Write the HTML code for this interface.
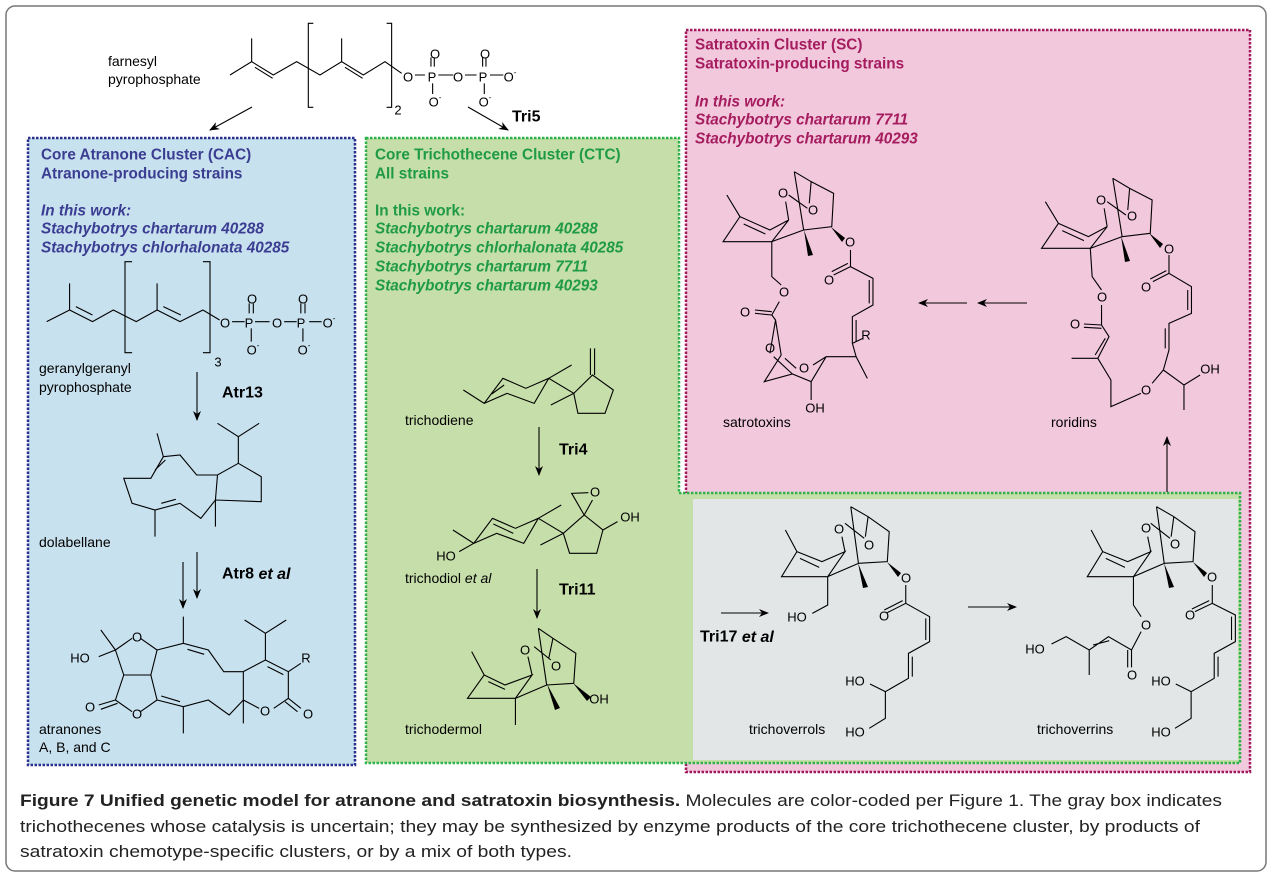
<!DOCTYPE html>
<html><head><meta charset="utf-8"><style>
html,body{margin:0;padding:0;background:#fff;}
svg{display:block;font-family:"Liberation Sans",Arial,sans-serif;}
.m{fill:none;stroke:#000;}
.m path,.m line,.m polyline{vector-effect:non-scaling-stroke;stroke-width:1.1;}
.w{fill:#000;stroke:none;}
.a{font-size:13px;fill:#000;text-anchor:middle;dominant-baseline:central;}
.l{font-size:14px;fill:#000;dominant-baseline:central;}
.e{font-size:16px;font-weight:bold;fill:#000;dominant-baseline:central;}
.hb{font-size:15.3px;font-weight:bold;fill:#3b3d92;dominant-baseline:central;}
.hg{font-size:15.3px;font-weight:bold;fill:#1f9a45;dominant-baseline:central;}
.hp{font-size:15.3px;font-weight:bold;fill:#a51c5f;dominant-baseline:central;}
.i{font-style:italic;}
</style></head><body>
<svg width="1273" height="877" viewBox="0 0 1273 877" xmlns="http://www.w3.org/2000/svg">
<defs>
<marker id="ah" markerWidth="10" markerHeight="8" refX="9" refY="4" orient="auto" markerUnits="userSpaceOnUse">
<path d="M0,0 L10,4 L0,8 L3,4 Z" fill="#000"/></marker>
</defs>
<rect x="6" y="6" width="1260" height="865" rx="9" fill="#fff" stroke="#777" stroke-width="1.5"/>

<!-- backgrounds -->
<rect x="686" y="30" width="564" height="742" fill="#f2c8dc"/>
<rect x="686" y="30" width="564" height="742" fill="none" stroke="#a3195b" stroke-width="2.5" stroke-dasharray="2.5 1.5"/>
<rect x="28" y="138" width="327" height="627" fill="#c8e1ee"/>
<path d="M366,138 H679 V493 H1240 V763 H366 Z" fill="#c6dea9"/>
<rect x="693" y="499" width="545" height="261" fill="#e3e6e6"/>
<!-- borders -->
<rect x="28" y="138" width="327" height="627" fill="none" stroke="#2b2f8f" stroke-width="2.5" stroke-dasharray="2.5 1.5"/>
<path d="M366,138 H679 V493 H1240 V763 H366 Z" fill="none" stroke="#2db34a" stroke-width="2.5" stroke-dasharray="2.5 1.5"/>

<!-- headers -->
<text class="hb" x="41" y="155">Core Atranone Cluster (CAC)</text>
<text class="hb" x="41" y="174">Atranone-producing strains</text>
<text class="hb i" x="41" y="211">In this work:</text>
<text class="hb i" x="41" y="229">Stachybotrys chartarum 40288</text>
<text class="hb i" x="41" y="248">Stachybotrys chlorhalonata 40285</text>

<text class="hg" x="375" y="155">Core Trichothecene Cluster (CTC)</text>
<text class="hg" x="375" y="174">All strains</text>
<text class="hg" x="375" y="211">In this work:</text>
<text class="hg i" x="375" y="229">Stachybotrys chartarum 40288</text>
<text class="hg i" x="375" y="248">Stachybotrys chlorhalonata 40285</text>
<text class="hg i" x="375" y="267">Stachybotrys chartarum 7711</text>
<text class="hg i" x="375" y="286">Stachybotrys chartarum 40293</text>

<text class="hp" x="695" y="45">Satratoxin Cluster (SC)</text>
<text class="hp" x="695" y="64">Satratoxin-producing strains</text>
<text class="hp i" x="695" y="102">In this work:</text>
<text class="hp i" x="695" y="120">Stachybotrys chartarum 7711</text>
<text class="hp i" x="695" y="139">Stachybotrys chartarum 40293</text>

<!-- farnesyl -->
<g class="m" transform="translate(90,20) scale(0.3333)">
<polyline points="420,165 485,125 550,165 620,125 690,165 755,125 820,165 885,125 935,160"/>
<path d="M485,125 L485,55 M755,125 L755,55 M495,142 L548,175 M765,142 L818,175"/>
<path d="M670,10 L655,10 L655,262 L670,262 M890,10 L905,10 L905,262 L890,262"/>
<path d="M975,165 L1005,165 M1045,165 L1090,165 M1125,165 L1160,165 M1200,165 L1240,165"/>
<path d="M1023,140 L1023,112 M1033,140 L1033,112 M1178,140 L1178,112 M1188,140 L1188,112 M1028,190 L1028,222 M1183,190 L1183,222"/>
</g>
<text class="l" x="108" y="61">farnesyl</text>
<text class="l" x="108" y="79">pyrophosphate</text>
<text class="a" x="408" y="77">O</text><text class="a" x="432" y="77">P</text><text class="a" x="458" y="77">O</text><text class="a" x="483" y="77">P</text><text class="a" x="510" y="77">O<tspan font-size="8" dy="-5">-</tspan></text>
<text class="a" x="435" y="54">O</text><text class="a" x="485" y="54">O</text>
<text class="a" x="435" y="102">O<tspan font-size="8" dy="-5">-</tspan></text><text class="a" x="485" y="102">O<tspan font-size="8" dy="-5">-</tspan></text>
<text class="a" x="398" y="110" font-size="12">2</text>
<line x1="252" y1="107" x2="210" y2="130" stroke="#000" stroke-width="1.1" marker-end="url(#ah)"/>
<line x1="468" y1="107" x2="508" y2="130" stroke="#000" stroke-width="1.1" marker-end="url(#ah)"/>
<text class="e" x="512" y="117">Tri5</text>

<g class="m" transform="translate(30,270) scale(0.41667,0.33333)">
<polyline points="40,155 95,120 150,155 200,120 255,155 305,120 360,155 415,120 455,150"/>
<path d="M95,120 L95,40 M305,120 L305,40 M110,110 L150,135 M320,110 L362,135"/>
<path d="M245,-25 L228,-25 L228,248 L245,248 M415,-25 L432,-25 L432,248 L415,248"/>
<path d="M485,155 L515,155 M540,155 L575,155 M610,155 L640,155 M670,155 L700,155 M526,130 L526,100 M536,130 L536,100 M650,130 L650,100 M660,130 L660,100 M531,175 L531,215 M655,175 L655,215"/>
<polyline points="320,560 360,555 400,615 450,615 500,580 555,620 555,695 445,690 410,745 360,700 300,720 245,700 225,625 290,625 320,560"/>
<path d="M305,490 L320,560 M300,600 L325,570 M315,700 L350,688 M445,690 L450,615 M445,690 L445,770 M300,720 L300,800 M500,580 L500,500 L450,460 M500,500 L550,460"/>
<path d="M205,1140 L245,1105 M265,1105 L305,1140 L290,1215 L225,1215 L205,1140 M205,1140 L170,1080 M205,1140 L165,1160"/>
<path d="M225,1215 L205,1290 L245,1325 M265,1325 L305,1290 L290,1215 M205,1290 L165,1305 M210,1300 L170,1318"/>
<path d="M305,1140 L368,1120 L428,1140 L465,1205 L512,1205 M305,1290 L368,1310 L428,1290 L478,1335 L512,1290 M368,1120 L368,1040 M368,1310 L368,1390 M378,1138 L418,1153 M315,1278 L360,1295"/>
<path d="M512,1205 L565,1170 L620,1205 L620,1285 L585,1315 M550,1315 L512,1290 L512,1205 M512,1290 L512,1360 M620,1285 L650,1315 M612,1295 L642,1325 M620,1205 L650,1180 M565,1170 L565,1090 L515,1050 M565,1090 L615,1050 M570,1190 L608,1214"/>
<path d="M1040,360 L1090,400 L1135,325 L1190,355 L1245,325 L1210,400 L1145,370 L1090,400 M1108,372 L1138,345 M1245,325 L1300,285 M1245,325 L1305,370 L1250,405 M1305,370 L1350,315 L1400,360 L1380,430 L1315,430 L1305,370 M1345,315 L1345,235 M1355,315 L1355,235"/>
<path d="M1015,780 L1065,820 L1110,745 L1165,775 L1220,745 L1185,820 L1120,790 L1065,820 M1112,762 L1160,790 M1065,820 L1030,845 M1220,745 L1275,705 M1220,745 L1280,790 L1225,825 M1280,790 L1330,735 L1375,780 L1360,850 L1295,850 L1280,790 M1330,735 L1300,670 L1340,668 M1330,735 L1350,690 M1375,780 L1410,755"/>
<path d="M1060,1145 L1090,1215 L1050,1285 L1165,1285 L1205,1215 L1140,1245 L1090,1215 M1100,1235 L1140,1258 M1165,1285 L1165,1365 M1165,1285 L1240,1245 M1205,1215 L1195,1160 M1220,1075 L1240,1245 M1220,1075 L1255,1105 L1310,1150 L1305,1240 L1240,1245 M1210,1130 L1250,1170 M1255,1105 L1245,1165"/>
</g>
<polygon class="w" points="547,684 560,708 555,710"/>
<polygon class="w" points="573,683 591,697 587,701"/>
<text class="a" x="225" y="323">O</text><text class="a" x="249" y="323">P</text><text class="a" x="277" y="323">O</text><text class="a" x="301" y="323">P</text><text class="a" x="329" y="323">O<tspan font-size="8" dy="-5">-</tspan></text>
<text class="a" x="252" y="299">O</text><text class="a" x="303" y="299">O</text>
<text class="a" x="253" y="350">O<tspan font-size="8" dy="-5">-</tspan></text><text class="a" x="304" y="350">O<tspan font-size="8" dy="-5">-</tspan></text>
<text class="a" x="218" y="362" font-size="12">3</text>
<text class="l" x="39" y="368">geranylgeranyl</text>
<text class="l" x="39" y="387">pyrophosphate</text>
<text class="e" x="222" y="393">Atr13</text>
<text class="l" x="39" y="542">dolabellane</text>
<text class="e" x="222" y="574">Atr8 <tspan class="i">et al</tspan></text>
<text class="a" x="80" y="658">HO</text><text class="a" x="137" y="637">O</text><text class="a" x="90" y="707">O</text><text class="a" x="137" y="714">O</text>
<text class="a" x="306" y="658">R</text><text class="a" x="265" y="711">O</text><text class="a" x="308" y="714">O</text>
<text class="l" x="39" y="729">atranones</text>
<text class="l" x="39" y="747">A, B, and C</text>
<text class="l" x="405" y="420">trichodiene</text>
<text class="e" x="559" y="450">Tri4</text>
<text class="a" x="446" y="556">HO</text><text class="a" x="595" y="492">O</text><text class="a" x="630" y="517">OH</text>
<text class="l" x="405" y="578">trichodiol <tspan class="i">et al</tspan></text>
<text class="e" x="559" y="590">Tri11</text>
<text class="a" x="525" y="650">O</text><text class="a" x="556" y="666">O</text><text class="a" x="599" y="699">OH</text>
<text class="l" x="405" y="729">trichodermol</text>
<line x1="197" y1="372" x2="197" y2="420" stroke="#000" stroke-width="1.1" marker-end="url(#ah)"/>
<line x1="197" y1="552" x2="197" y2="598" stroke="#000" stroke-width="1.1" marker-end="url(#ah)"/>
<line x1="183" y1="562" x2="183" y2="608" stroke="#000" stroke-width="1.1" marker-end="url(#ah)"/>
<line x1="539" y1="427" x2="539" y2="475" stroke="#000" stroke-width="1.1" marker-end="url(#ah)"/>
<line x1="537" y1="569" x2="537" y2="618" stroke="#000" stroke-width="1.1" marker-end="url(#ah)"/>

<g class="m" transform="translate(680,20) scale(0.3747,0.33333)">
<g id="core3">
<path d="M125,525 L160,590 L115,665 L245,665 L290,600 L240,630 L160,590 M170,612 L228,642 M290,600 L282,545 M305,455 L330,630 M305,455 L350,485 L410,520 L405,620 L330,630 M245,665 L330,630 M290,525 L340,565 M350,485 L345,550"/>
</g>
<path d="M455,690 L455,740 L515,775 L515,855 L460,890 L460,970 L470,1010 L500,1075 M455,740 L410,765 M448,730 L405,755 M505,780 L505,850 M470,900 L470,965 M460,970 L488,955 M470,1010 L390,1010 L355,1035 M310,1045 L280,1015 M390,1010 L350,1085 L350,1140 M350,1085 L300,1062 L225,1085 L270,1005 L255,900 L245,885 M245,885 L265,845 M270,795 L245,770 L245,665 M245,885 L200,880 M245,875 L200,870 M255,900 L240,1000 M300,1062 L250,1010"/>
<use href="#core3" transform="translate(850,20)"/>
<path d="M1305,705 L1305,760 L1365,800 L1365,880 L1305,910 L1305,990 L1290,1050 L1260,1090 M1230,1120 L1150,1160 L1150,1080 L1115,1015 L1145,950 L1125,915 L1125,855 M1125,810 L1100,770 L1095,685 M1115,1015 L1045,1015 M1125,915 L1078,912 M1125,925 L1078,922 M1305,760 L1262,785 M1298,752 L1255,777 M1355,810 L1355,870 M1295,925 L1295,985 M1135,955 L1108,1005 M1290,1050 L1345,1095 L1345,1170 M1345,1095 L1388,1065"/>
</g>
<polygon class="w" points="804,230 813,255 808,256"/>
<polygon class="w" points="831,227 845,238 842,242"/>
<polygon class="w" points="1121,236 1130,261 1125,262"/>
<polygon class="w" points="1149,233 1163,244 1160,248"/>
<text class="a" x="783" y="193">O</text><text class="a" x="813" y="210">O</text><text class="a" x="850" y="242">O</text><text class="a" x="829" y="280">O</text>
<text class="a" x="784" y="292">O</text><text class="a" x="745" y="312">O</text><text class="a" x="866" y="335" font-size="12">R</text><text class="a" x="770" y="348">O</text><text class="a" x="804" y="368">O</text><text class="a" x="815" y="408">OH</text>
<text class="l" x="723" y="422">satrotoxins</text>
<text class="a" x="1101" y="200">O</text><text class="a" x="1132" y="216">O</text><text class="a" x="1169" y="249">O</text><text class="a" x="1146" y="287">O</text>
<text class="a" x="1102" y="297">O</text><text class="a" x="1075" y="324">O</text><text class="a" x="1210" y="369">OH</text><text class="a" x="1146" y="390">O</text>
<text class="l" x="1051" y="422">roridins</text>
<line x1="1027" y1="303" x2="978" y2="303" stroke="#000" stroke-width="1.1" marker-end="url(#ah)"/>
<line x1="967" y1="303" x2="919" y2="303" stroke="#000" stroke-width="1.1" marker-end="url(#ah)"/>
<line x1="1167" y1="492" x2="1167" y2="437" stroke="#000" stroke-width="1.1" marker-end="url(#ah)"/>

<g class="m" transform="translate(670,470) scale(0.3846,0.33333)">
<g id="core2">
<path d="M300,180 L330,245 L290,320 L410,320 L455,245 L395,275 L330,245 M338,265 L388,292 M455,245 L447,200 M470,110 L490,280 M470,110 L515,140 L570,185 L565,275 L490,280 M410,320 L490,280 M455,160 L505,205 M515,140 L508,200"/>
</g>
<path d="M613,345 L613,400 L565,428 M605,392 L557,420 M613,400 L675,440 L675,515 L620,550 L620,625 L560,665 L560,745 L518,775 M665,445 L665,510 M630,560 L630,620 M560,665 L520,642 M410,320 L410,405 L370,430"/>
<use href="#core2" transform="translate(795,0)"/>
<path d="M1205,320 L1205,405 L1225,440 M1225,485 L1200,540 L1140,500 L1090,540 L1030,500 L992,522 M1090,540 L1090,615 M1100,525 L1142,512 M1200,540 L1200,592 M1190,540 L1190,592 M1410,345 L1410,400 L1365,425 M1402,392 L1357,417 M1410,400 L1470,435 L1470,515 L1415,550 L1415,625 L1355,665 L1355,745 L1313,775 M1460,440 L1460,510 M1425,560 L1425,620 M1355,665 L1315,642"/>
</g>
<polygon class="w" points="858,563 868,587 863,588"/>
<polygon class="w" points="887,562 901,573 898,577"/>
<polygon class="w" points="1164,563 1174,587 1169,588"/>
<polygon class="w" points="1193,562 1207,573 1204,577"/>
<text class="a" x="839" y="529">O</text><text class="a" x="869" y="545">O</text><text class="a" x="906" y="578">O</text><text class="a" x="884" y="616">O</text>
<text class="a" x="797" y="617">HO</text><text class="a" x="855" y="681">HO</text><text class="a" x="855" y="732">HO</text>
<text class="l" x="749" y="729">trichoverrols</text>
<text class="a" x="1146" y="528">O</text><text class="a" x="1175" y="544">O</text><text class="a" x="1212" y="577">O</text><text class="a" x="1190" y="615">O</text>
<text class="a" x="1146" y="625">O</text><text class="a" x="1035" y="649">HO</text><text class="a" x="1132" y="675">O</text>
<text class="a" x="1161" y="681">HO</text><text class="a" x="1161" y="732">HO</text>
<text class="l" x="1037" y="729">trichoverrins</text>
<line x1="721" y1="613" x2="768" y2="613" stroke="#000" stroke-width="1.1" marker-end="url(#ah)"/>
<line x1="968" y1="607" x2="1016" y2="607" stroke="#000" stroke-width="1.1" marker-end="url(#ah)"/>
<text class="e" x="700" y="637">Tri17 <tspan class="i">et al</tspan></text>

<text x="20" y="806" font-size="16.5" fill="#222" textLength="1202" lengthAdjust="spacingAndGlyphs"><tspan font-weight="bold">Figure 7 Unified genetic model for atranone and satratoxin biosynthesis.</tspan> Molecules are color-coded per Figure 1. The gray box indicates</text>
<text x="20" y="832" font-size="16.5" fill="#222" textLength="1180" lengthAdjust="spacingAndGlyphs">trichothecenes whose catalysis is uncertain; they may be synthesized by enzyme products of the core trichothecene cluster, by products of</text>
<text x="20" y="857" font-size="16.5" fill="#222" textLength="552" lengthAdjust="spacingAndGlyphs">satratoxin chemotype-specific clusters, or by a mix of both types.</text>
</svg>
</body></html>
